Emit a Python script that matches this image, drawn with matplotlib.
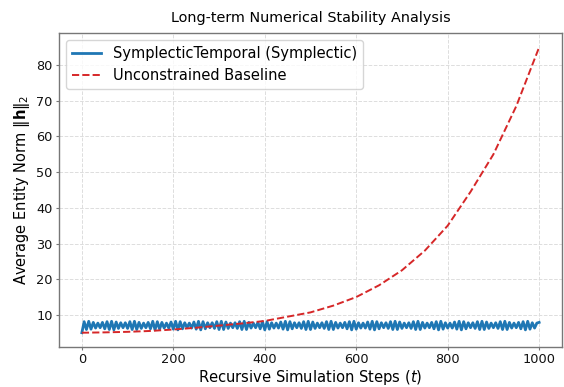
import matplotlib
matplotlib.use("Agg")
import matplotlib.pyplot as plt
import numpy as np

# Unconstrained baseline (read every 50 steps)
base_steps = [0, 50, 100, 150, 200, 250, 300, 350, 400, 450, 500,
              550, 600, 650, 700, 750, 800, 850, 900, 950, 1000]
base_norm = [5.0, 5.1, 5.25, 5.5, 5.9, 6.4, 7.0, 7.6, 8.3, 9.5, 10.7,
             12.6, 15.0, 18.3, 22.5, 28.0, 35.0, 44.5, 55.0, 68.5, 85.0]

# Symplectic model (read every 5 steps: alternating peaks / troughs)
sym_norm = [
    5.0, 8.1, 5.9, 8.2, 6.0, 7.9, 6.3, 7.7, 6.4, 7.9, 6.1, 8.1, 5.9, 8.2, 5.8, 8.0, 6.2, 7.8, 6.4, 7.8,
    6.2, 8.1, 5.9, 8.2, 5.9, 7.9, 6.2, 7.7, 6.4, 7.9, 6.1, 8.2, 5.8, 8.1, 6.0, 7.9, 6.3, 7.7, 6.3, 8.0,
    6.0, 8.2, 5.8, 8.1, 6.1, 7.8, 6.4, 7.7, 6.3, 8.0, 6.0, 8.2, 5.8, 8.1, 6.1, 7.8, 6.4, 7.8, 6.2, 8.1,
    5.9, 8.2, 5.9, 8.0, 6.2, 7.7, 6.4, 7.8, 6.2, 8.1, 5.9, 8.2, 5.9, 7.9, 6.3, 7.7, 6.4, 7.9, 6.1, 8.1,
    5.8, 8.1, 6.0, 7.8, 6.3, 7.7, 6.3, 8.0, 6.0, 8.2, 5.8, 8.1, 6.1, 7.8, 6.4, 7.8, 6.2, 8.1, 5.9, 8.2,
    5.9, 8.0, 6.2, 7.7, 6.4, 7.8, 6.2, 8.1, 5.9, 8.2, 5.9, 7.9, 6.3, 7.7, 6.4, 7.9, 6.1, 8.1, 5.8, 8.2,
    6.0, 7.8, 6.3, 7.7, 6.3, 8.0, 6.0, 8.2, 5.8, 8.1, 6.1, 7.8, 6.4, 7.8, 6.2, 8.1, 5.9, 8.2, 5.9, 8.0,
    6.2, 7.7, 6.4, 7.8, 6.2, 8.1, 5.9, 8.2, 5.9, 7.9, 6.3, 7.7, 6.4, 7.9, 6.1, 8.1, 5.8, 8.2, 6.0, 7.8,
    6.3, 7.7, 6.3, 8.0, 6.0, 8.2, 5.8, 8.1, 6.1, 7.8, 6.4, 7.8, 6.2, 8.1, 5.9, 8.2, 5.9, 8.0, 6.2, 7.7,
    6.4, 7.8, 6.2, 8.1, 5.9, 8.2, 5.9, 7.9, 6.3, 7.7, 6.4, 7.9, 6.1, 8.1, 5.8, 8.2, 6.0, 7.8, 6.3, 7.7,
    7.9,
]
sym_steps = list(range(0, 1001, 5))

title = "Long-term Numerical Stability Analysis"
xlabel = r"Recursive Simulation Steps ($t$)"
ylabel = r"Average Entity Norm $\|\mathbf{h}\|_2$"
label_sym = "SymplecticTemporal (Symplectic)"
label_base = "Unconstrained Baseline"

fig = plt.figure(figsize=(5.64, 3.87), dpi=100)
ax = fig.add_axes([59/564, 1-347/387, (562-59)/564, (347-33)/387])

ax.plot(sym_steps, sym_norm, color="#1f77b4", lw=2.0, label=label_sym, zorder=3)
ax.plot(base_steps, base_norm, color="#d62728", lw=1.4, ls="--", label=label_base, zorder=3)

ax.set_xticks([0, 200, 400, 600, 800, 1000])
ax.set_yticks([10, 20, 30, 40, 50, 60, 70, 80])
ax.grid(True, ls="--", color="#dddddd", lw=0.7)
ax.set_axisbelow(True)
for s in ax.spines.values():
    s.set_color("#777777")
    s.set_linewidth(1.0)
ax.tick_params(labelcolor="#111111", labelsize=9.3, length=2.5, width=0.8,
               pad=2.0, color="#777777")

ax.set_title(title, fontsize=10.4, pad=8)
ax.set_xlabel(xlabel, fontsize=10.6, labelpad=1)
ax.set_ylabel(ylabel, fontsize=10.5, labelpad=3)
ax.legend(loc="upper left", fontsize=10.5, frameon=True, fancybox=True,
          edgecolor="#cccccc", handlelength=2.0, borderpad=0.4)

fig.savefig("out.png", dpi=100)
